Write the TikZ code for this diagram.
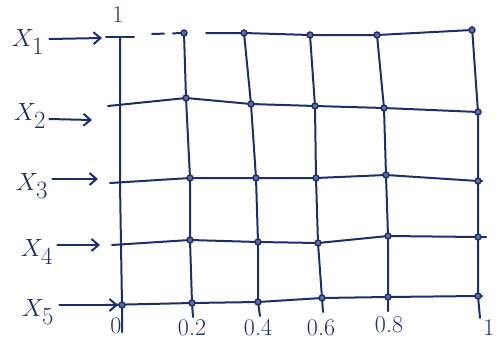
\documentclass[tikz,border=0pt]{standalone}
\usetikzlibrary{arrows.meta,calc}
\definecolor{ink}{HTML}{1B2F6E}
\begin{document}
\begin{tikzpicture}[x=1pt,y=-1pt,
  pen/.style={draw=ink,line width=2pt,line cap=round,line join=round},
  dot/.style={circle,draw=ink,fill=ink!70,line width=1.4pt,inner sep=0pt,minimum size=6pt},
  lbl/.style={text=ink,font=\fontsize{36}{36}\selectfont,inner sep=0pt},
  tlbl/.style={text=ink,font=\fontsize{24}{24}\selectfont,inner sep=0pt},
  arr/.style={pen,-{Straight Barb[length=7pt,width=12pt]}}]
\useasboundingbox (0,0) rectangle (501,351);
% grid intersections
\foreach \r/\pts in {1/{120/35,184/33,244/33,310/35,377/35,472/30},
                     2/{120/106,186/98,251/104,315/106,384/108,478/112},
                     3/{120/183,190/178,256/178,316/178,386/175,478/181},
                     4/{121/245,190/240,258/242,318/243,388/236,478/237},
                     5/{122/305,192/303,258/302,322/298,388/297,478/296}}{
  \foreach \xx/\yy [count=\c from 0] in \pts {\coordinate (p\r\c) at (\xx,\yy);}
}
% extra ends
\coordinate (top0) at (120,37);
\coordinate (bot0) at (122,332);
\coordinate (top5) at (472,27);
\coordinate (bot5) at (480,318);
\coordinate (tl) at (106,37);
\coordinate (tr) at (134,37);
\coordinate (d0) at (152,34);
\coordinate (s1) at (206,33);
\coordinate (l2) at (108,106);
\coordinate (l3) at (110,183);
\coordinate (l4) at (112,245);
\coordinate (l5) at (105,305);
\coordinate (r3) at (482,181);
\coordinate (r4) at (486,237);
\coordinate (r5) at (482,296);
\foreach \c/\dx in {1/1,2/2,3/1,4/0}{\coordinate (b\c) at ($(p5\c)+(\dx,14)$);}
% verticals
\draw[pen] (top0) -- (p20) -- (p30) -- (p40) -- (p50) -- (bot0);
\draw[pen] (tl) -- (tr);
\foreach \c in {1,2,3,4}{\draw[pen] (p1\c) -- (p2\c) -- (p3\c) -- (p4\c) -- (p5\c) -- (b\c);}
\draw[pen] (top5) -- (p25) -- (p35) -- (p45) -- (p55) -- (bot5);
% horizontals
\draw[pen,dash pattern=on 12pt off 9pt] (d0) -- (p11);
\draw[pen] (s1) -- (p12) -- (p13) -- (p14) -- (p15);
\draw[pen] (l2) -- (p21) -- (p22) -- (p23) -- (p24) -- (p25);
\draw[pen] (l3) -- (p31) -- (p32) -- (p33) -- (p34) -- (p35) -- (r3);
\draw[pen] (l4) -- (p41) -- (p42) -- (p43) -- (p44) -- (p45) -- (r4);
\draw[pen] (l5) -- (p51) -- (p52) -- (p53) -- (p54) -- (p55) -- (r5);
% dots
\foreach \r in {1,...,5}{\foreach \c in {1,...,5}{\node[dot] at (p\r\c) {};}}
\node[dot] at (p50) {};
% axis labels
\node[tlbl] (one) at (118,15) {1};
\node[tlbl] (zero) at (116,326) {0};
\node[tlbl] (t2) at (192,328) {0.2};
\node[tlbl] (t4) at (258,328) {0.4};
\node[tlbl] (t6) at (321,328) {0.6};
\node[tlbl] (t8) at (389,325) {0.8};
\node[tlbl] (t10) at (489,328) {1};
% x labels with arrows
\node[lbl] (x1) at (28,42) {$X_1$};
\node[lbl] (x2) at (30,116) {$X_2$};
\node[lbl] (x3) at (32,186) {$X_3$};
\node[lbl] (x4) at (37,252) {$X_4$};
\node[lbl] (x5) at (38,312) {$X_5$};
\coordinate (a1) at (102,38);
\coordinate (a2) at (92,120);
\coordinate (a3) at (98,179);
\coordinate (a4) at (100,245);
\coordinate (a5) at (118,305);
\draw[arr] (x1.east) ++(5,-3) -- (a1);
\draw[arr] (x2.east) ++(3,3) -- (a2);
\draw[arr] (x3.east) ++(4,-7) -- (a3);
\draw[arr] (x4.east) ++(4,-7) -- (a4);
\draw[arr] (x5.east) ++(5,-7) -- (a5);
\end{tikzpicture}
\end{document}
